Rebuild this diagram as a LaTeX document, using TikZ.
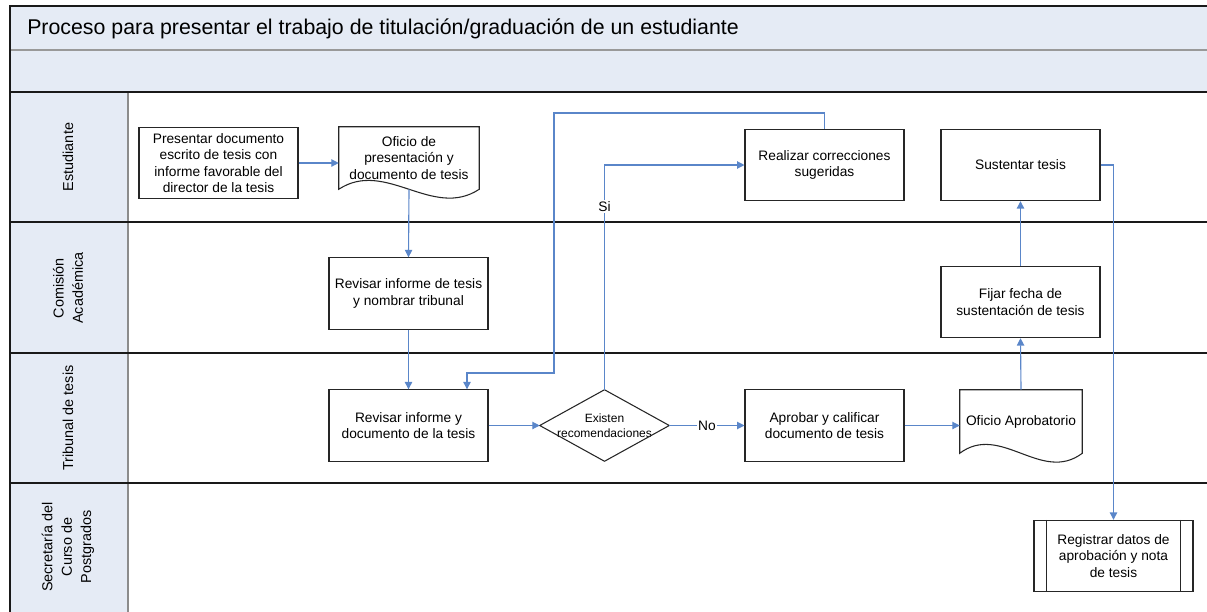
\documentclass[tikz,border=0pt]{standalone}
\usepackage{fontspec}
\setmainfont{Liberation Sans}
\usetikzlibrary{arrows.meta,calc}
\definecolor{lanefill}{HTML}{E5EBF5}
\definecolor{flowblue}{HTML}{5A86C9}
\tikzset{
    tarea/.style={draw=black!85,line width=0.8pt,fill=white,align=center,
        minimum width=119.25pt,minimum height=53.5pt,inner sep=2pt,
        font=\fontsize{10.3}{12.3}\selectfont},
    docu/.style={align=center,minimum width=#1,inner sep=2pt,
        font=\fontsize{10.3}{12.3}\selectfont},
    carril/.style={rotate=90,align=center,font=\fontsize{10.8}{14.5}\selectfont},
    flujo/.style={draw=flowblue,line width=0.85pt,
        -{Triangle[length=5.5pt,width=5.5pt]}},
    etiq/.style={fill=white,inner sep=1pt,font=\fontsize{10.3}{12}\selectfont}
}
\newcommand\ondas[1]{%
    \draw[black!85,line width=0.8pt] (#1.north west) -- (#1.north east) -- (#1.south east)
        .. controls ($(#1.south east)!1/3!(#1.south west)+(0,-23pt)$)
        and ($(#1.south east)!2/3!(#1.south west)+(0,23pt)$) .. (#1.south west) -- cycle;}

\begin{document}
\begin{tikzpicture}[x=0.75pt,y=-0.75pt]
            \useasboundingbox (0,0) rectangle (1207,611);
            \fill[lanefill] (10,6) rectangle (1210,92);
            \fill[lanefill] (10,92) rectangle (128,615);
            \draw[black!40,line width=0.8pt] (10,50) -- (1210,50);
            \draw[black!45,line width=0.8pt] (128,92) -- (128,615);
            \draw[black!90,line width=0.8pt] (1210,6) -- (10,6) -- (10,615);
            \draw[black!90,line width=0.8pt] (10,92) -- (1210,92);
            \foreach \yy in {222,353,483}
                \draw[black!90,line width=0.8pt] (10,\yy) -- (1210,\yy);
            \node[anchor=west,inner sep=0pt,font=\fontsize{16}{18}\selectfont] (titulo) at (27,29)
                {Proceso para presentar el trabajo de titulación/graduación de un estudiante};
            \node[carril] (lest) at (68,157) {Estudiante};
            \node[carril] (lcom) at (68,288) {Comisión\\Académica};
            \node[carril] (ltri) at (68,418) {Tribunal de tesis};
            \node[carril] (lsec) at (68,547) {Secretaría del\\Curso de\\Postgrados};

            \node[tarea] (presentar) at (218.5,163) {Presentar documento\\escrito de tesis con\\informe favorable del\\director de la tesis};
            \node[docu=105pt,minimum height=46.5pt] (oficio) at (409,158) {Oficio de\\presentación y\\documento de tesis};
            \ondas{oficio}
            \node[tarea] (revisar) at (408.5,293.5) {Revisar informe de tesis\\y nombrar tribunal};
            \node[tarea] (revdoc) at (408.5,425.5) {Revisar informe y\\documento de la tesis};
            \node[minimum width=96.75pt,minimum height=53.25pt,inner sep=0pt,align=center,
                font=\fontsize{9}{11.2}\selectfont] (existen) at (604.5,425.5) {Existen\\recomendaciones};
            \draw[black!85,line width=0.8pt] (existen.north) -- (existen.east) -- (existen.south) -- (existen.west) -- cycle;
            \node[tarea] (aprobar) at (824.5,425.5) {Aprobar y calificar\\documento de tesis};
            \node[docu=91.5pt,minimum height=47.25pt] (aprob) at (1021,421.5) {Oficio Aprobatorio};
            \ondas{aprob}
            \node[tarea] (corregir) at (824.5,165) {Realizar correcciones\\sugeridas};
            \node[tarea] (sustentar) at (1020.5,165) {Sustentar tesis};
            \node[tarea] (fijar) at (1020.5,302) {Fijar fecha de\\sustentación de tesis};
            \node[tarea] (registrar) at (1113.5,556) {Registrar datos de\\aprobación y nota\\de tesis};
            \draw[black!85,line width=0.8pt] ([xshift=10pt]registrar.north west) -- ([xshift=10pt]registrar.south west);
            \draw[black!85,line width=0.8pt] ([xshift=-10pt]registrar.north east) -- ([xshift=-10pt]registrar.south east);

            \coordinate (vuelta1) at (554,113);
            \coordinate (vuelta2) at (467,373);
            \draw[flujo] (presentar.east) -- (presentar.east -| oficio.west);
            \draw[flujo] (oficio.south) -- (revisar.north);
            \draw[flujo] (revisar) -- (revdoc);
            \draw[flujo] (revdoc) -- (existen);
            \draw[flujo] (existen) -- node[etiq] (no) {No} (aprobar);
            \draw[flujo] (existen.north) |- node[etiq,pos=0.407] (si) {Si} (corregir.west);
            \draw[flujo] (corregir.north) |- (vuelta1) |- (vuelta2) -- (vuelta2 |- revdoc.north);
            \draw[flujo] (aprobar.east) -- (aprobar.east -| aprob.west);
            \draw[flujo] (aprob.north) -- (fijar.south);
            \draw[flujo] (fijar) -- (sustentar);
            \draw[flujo] (sustentar.east) -| (registrar.north);
        \end{tikzpicture}
\end{document}
